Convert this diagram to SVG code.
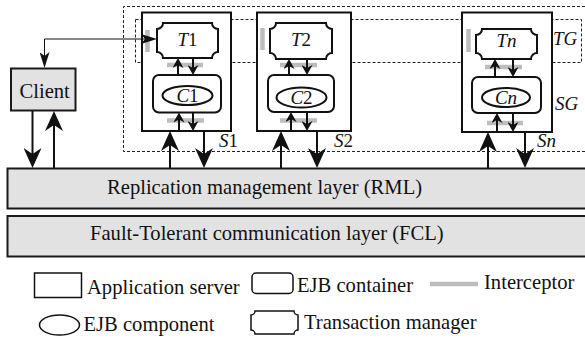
<svg xmlns="http://www.w3.org/2000/svg" width="585" height="338" viewBox="0 0 585 338">
<style>
text{font-family:"Liberation Serif","Times New Roman",serif;fill:#111}
.t{font-size:20.6px}
.lb{font-size:19px;font-style:italic}
.n{font-style:normal}
.box{fill:#fff;stroke:#111;stroke-width:2}
.gbox{fill:#e2e2e2;stroke:#1a1a1a;stroke-width:2}
.dash{fill:none;stroke:#222;stroke-width:1;stroke-dasharray:3 2}
.ic{stroke:#bdbdbd;stroke-width:4.5;fill:none}
.big{stroke:#111;stroke-width:2;fill:none;marker-end:url(#big)}
.sm{stroke:#111;stroke-width:2;fill:none;marker-end:url(#sm)}
.lg{fill:#fff;stroke:#111;stroke-width:1.5}
</style>
<defs>
<marker id="big" markerUnits="userSpaceOnUse" markerWidth="20" markerHeight="18" viewBox="0 0 20 18" refX="14" refY="9" orient="auto"><path d="M0,0 L20,9 L0,18 L6,9 Z" fill="#111"/></marker>
<marker id="sm" markerUnits="userSpaceOnUse" markerWidth="10" markerHeight="11" viewBox="0 0 10 11" refX="6" refY="5.5" orient="auto"><path d="M0,0 L10,5.5 L0,11 L3,5.5 Z" fill="#111"/></marker>
<marker id="thin" markerUnits="userSpaceOnUse" markerWidth="16" markerHeight="10" viewBox="0 0 16 10" refX="12" refY="5" orient="auto-start-reverse"><path d="M0,0 L16,5 L0,10 L4,5 Z" fill="#111"/></marker>
</defs>

<g id="groups">
<path class="dash" d="M590,6.5 H123.5 V151.5 H590"/>
<rect class="dash" x="135.5" y="19.5" width="446" height="43"/>
<text class="lb" x="553" y="45">TG</text>
<text class="lb" x="555" y="110">SG</text>
</g>

<g id="layers">
<g id="RML"><rect class="gbox" x="7.5" y="168.5" width="580" height="40"/><text class="t" x="107" y="194">Replication management layer (RML)</text></g>
<g id="FCL"><rect class="gbox" x="7.5" y="216" width="580" height="40.5"/><text class="t" x="90" y="239.5">Fault-Tolerant communication layer (FCL)</text></g>
</g>

<g id="client"><rect class="gbox" x="11" y="68.5" width="64.5" height="42"/><text class="t" x="19.5" y="97.5">Client</text></g>

<g id="S1">
<rect class="box" x="142" y="12.5" width="89" height="118.5"/>
<path class="box" d="M163,23 H212 A6 6 0 0 0 218,29 V52 A6 6 0 0 0 212,58 H163 A6 6 0 0 0 157,52 V29 A6 6 0 0 0 163,23 Z"/>
<text class="lb" x="187.5" y="45.5" text-anchor="middle">T<tspan class="n">1</tspan></text>
<rect class="box" x="153" y="75" width="68" height="37.5" rx="6"/>
<ellipse class="box" cx="187.5" cy="95.5" rx="25" ry="9.5"/>
<text class="lb" x="187.5" y="101.5" text-anchor="middle">C<tspan class="n">1</tspan></text>
<text class="lb" x="219" y="147">S<tspan class="n">1</tspan></text>
</g>

<g id="S2">
<rect class="box" x="257" y="12.5" width="94" height="118.5"/>
<path class="box" d="M276,23 H326 A6 6 0 0 0 332,29 V53 A6 6 0 0 0 326,59 H276 A6 6 0 0 0 270,53 V29 A6 6 0 0 0 276,23 Z"/>
<text class="lb" x="301" y="46" text-anchor="middle">T<tspan class="n">2</tspan></text>
<rect class="box" x="268" y="75" width="66" height="37" rx="6"/>
<ellipse class="box" cx="301.5" cy="97.5" rx="25" ry="10"/>
<text class="lb" x="301.5" y="103.5" text-anchor="middle">C<tspan class="n">2</tspan></text>
<text class="lb" x="334" y="147">S<tspan class="n">2</tspan></text>
</g>

<g id="Sn">
<rect class="box" x="462" y="12.5" width="90" height="119.5"/>
<path class="box" d="M482,29 H531 A6 6 0 0 0 537,35 V53 A6 6 0 0 0 531,59 H482 A6 6 0 0 0 476,53 V35 A6 6 0 0 0 482,29 Z"/>
<text class="lb" x="506.5" y="47" text-anchor="middle">Tn</text>
<rect class="box" x="472" y="77" width="69" height="36" rx="6"/>
<ellipse class="box" cx="506" cy="97.5" rx="24" ry="9.5"/>
<text class="lb" x="506" y="103.5" text-anchor="middle">Cn</text>
<text class="lb" x="537" y="147">Sn</text>
</g>

<g id="interceptors">
<line class="ic" x1="147.5" y1="30" x2="147.5" y2="52"/>
<line class="ic" x1="167" y1="65" x2="203" y2="65"/>
<line class="ic" x1="167" y1="120.5" x2="204" y2="120.5"/>
<line class="ic" x1="262.5" y1="28" x2="262.5" y2="50"/>
<line class="ic" x1="280" y1="65" x2="317" y2="65"/>
<line class="ic" x1="280" y1="120.5" x2="317" y2="120.5"/>
<line class="ic" x1="468.5" y1="29" x2="468.5" y2="52"/>
<line class="ic" x1="485" y1="67" x2="522" y2="67"/>
<line class="ic" x1="487" y1="123" x2="523" y2="123"/>
</g>

<g id="connectors">
<path d="M153,39 H44.5 V64" fill="none" stroke="#111" stroke-width="1" marker-start="url(#thin)" marker-end="url(#thin)"/>
<line class="big" x1="32.5" y1="111" x2="32.5" y2="162"/>
<line class="big" x1="54" y1="168" x2="54" y2="117"/>
<line class="big" x1="170" y1="168" x2="170" y2="137"/>
<line class="big" x1="204" y1="131" x2="204" y2="162"/>
<line class="big" x1="281" y1="168" x2="281" y2="137"/>
<line class="big" x1="317" y1="131" x2="317" y2="162"/>
<line class="big" x1="488" y1="168" x2="488" y2="138"/>
<line class="big" x1="525" y1="132" x2="525" y2="162"/>
<line class="sm" x1="178" y1="75" x2="178" y2="62"/>
<line class="sm" x1="193" y1="58" x2="193" y2="71"/>
<line class="sm" x1="179" y1="131" x2="179" y2="116.5"/>
<line class="sm" x1="193" y1="112.5" x2="193" y2="127"/>
<line class="sm" x1="289" y1="75" x2="289" y2="63"/>
<line class="sm" x1="307" y1="59" x2="307" y2="71"/>
<line class="sm" x1="291" y1="131" x2="291" y2="116"/>
<line class="sm" x1="307" y1="112" x2="307" y2="127"/>
<line class="sm" x1="495" y1="77" x2="495" y2="63"/>
<line class="sm" x1="513" y1="59" x2="513" y2="73"/>
<line class="sm" x1="497" y1="132" x2="497" y2="117"/>
<line class="sm" x1="513" y1="113" x2="513" y2="128"/>
</g>

<g id="legend">
<rect class="lg" x="34.5" y="273" width="47" height="24.5"/>
<text class="t" x="87" y="294">Application server</text>
<rect class="lg" x="252" y="273" width="41" height="20.5" rx="4"/>
<text class="t" x="297" y="292">EJB container</text>
<line class="ic" x1="430" y1="284" x2="478" y2="284"/>
<text class="t" x="484" y="288.5">Interceptor</text>
<ellipse class="lg" cx="59.5" cy="325" rx="20" ry="10"/>
<text class="t" x="83.5" y="331">EJB component</text>
<path class="lg" d="M255,311 H294 A4 4 0 0 0 298,315 V330 A4 4 0 0 0 294,334 H255 A4 4 0 0 0 251,330 V315 A4 4 0 0 0 255,311 Z"/>
<text class="t" x="304" y="328.5">Transaction manager</text>
</g>
</svg>
